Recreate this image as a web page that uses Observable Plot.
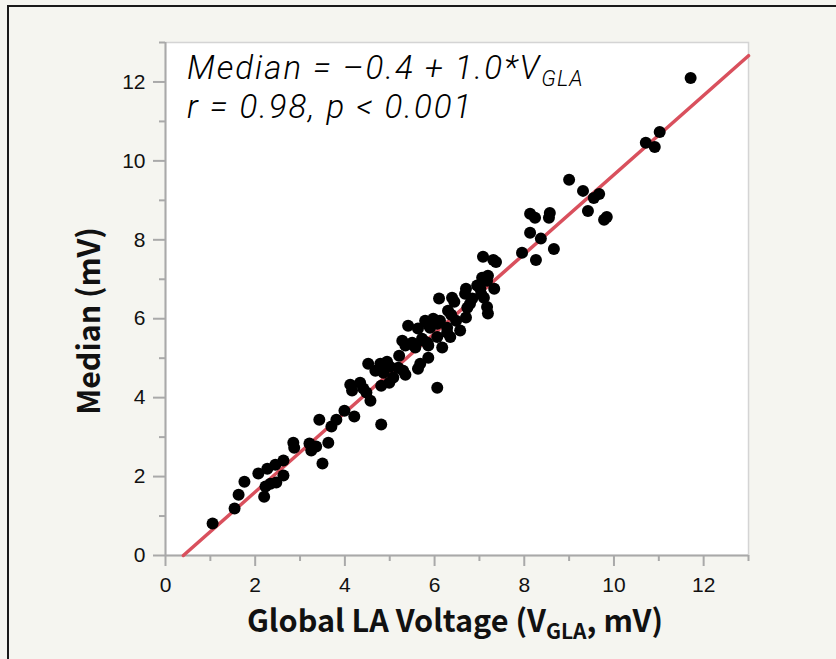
<!DOCTYPE html>
<html><head><meta charset="utf-8">
<script src="https://cdn.jsdelivr.net/npm/d3@7"></script>
<script src="https://cdn.jsdelivr.net/npm/@observablehq/plot@0.6"></script>
<style>
html,body{margin:0;padding:0;background:#f5f5f0;overflow:hidden;width:836px;height:659px}
#wrap{position:relative;width:836px;height:659px}
#border{position:absolute;left:7px;top:5px;width:1000px;height:1000px;border:2px solid #1a1a1a;pointer-events:none}
#chart svg{display:block}
</style></head><body>
<div id="wrap"><div id="chart"></div><div id="border"></div></div>
<script>
const globalLA = [1.05,1.54,1.63,1.76,2.20,2.07,2.27,2.45,2.23,2.34,2.47,2.63,2.63,2.85,2.87,3.21,3.25,3.36,3.50,3.63,3.43,3.70,3.81,3.99,4.21,4.12,4.16,4.34,4.41,4.48,4.57,4.52,4.79,4.94,5.01,4.68,4.86,4.81,4.81,5.08,4.99,5.19,5.30,5.35,5.21,5.28,5.35,5.50,5.57,5.41,5.63,5.68,5.63,5.72,5.84,5.86,5.86,6.06,6.06,6.17,6.06,6.12,6.28,6.35,6.57,6.48,6.30,6.37,6.70,6.73,6.79,6.10,6.39,6.44,6.70,6.68,6.95,7.02,7.04,7.10,7.17,7.19,7.33,7.06,7.19,7.08,7.31,7.37,7.95,8.13,8.24,8.57,8.55,8.13,8.37,8.26,8.66,9.00,9.31,9.55,9.67,9.42,9.78,9.84,10.71,10.91,11.02,11.71,7.17,5.90,5.75,5.86,6.84,6.28,5.79,5.97];
const medianV = [0.81,1.19,1.54,1.87,1.49,2.08,2.20,2.30,1.75,1.82,1.85,2.03,2.41,2.86,2.73,2.84,2.66,2.76,2.33,2.86,3.44,3.27,3.44,3.67,3.52,4.33,4.18,4.38,4.23,4.13,3.92,4.86,4.86,4.91,4.78,4.68,4.63,4.30,3.32,4.51,4.38,4.76,4.68,4.58,5.06,5.44,5.32,5.39,5.27,5.82,5.75,4.86,4.73,5.49,5.39,5.01,5.85,5.87,5.54,5.27,4.25,5.95,5.65,5.54,5.70,5.95,6.20,6.10,6.03,6.28,6.38,6.51,6.53,6.43,6.76,6.63,6.84,6.76,6.63,6.53,6.30,6.13,6.76,7.04,7.09,7.57,7.49,7.44,7.67,8.66,8.56,8.68,8.56,8.18,8.03,7.49,7.77,9.52,9.24,9.06,9.16,8.73,8.51,8.58,10.46,10.35,10.73,12.10,6.96,5.77,5.44,5.32,6.51,5.77,5.95,6.00];
const majorTicks = [0,2,4,6,8,10,12];
const minorTicks = [1,3,5,7,9,11,13];
const axisDomain = [0,13];
const fitIntercept = -0.4;
const fitSlope = 1.005;
const eqMain = "Median = \u20130.4 + 1.0*V";
const eqSub = "GLA";
const statText = "r = 0.98, p < 0.001";
const xTitleParts = ["Global LA Voltage (V", "GLA", ", mV)"];
const yTitle = "Median (mV)";

const points = globalLA.map((x, i) => ({x, y: medianV[i]}));
const fitLine = [-fitIntercept / fitSlope, axisDomain[1]].map(x => ({x, y: fitIntercept + fitSlope * x}));

const axisGray = "#a9a9a9";
const plot = Plot.plot({
  width: 836, height: 659,
  marginLeft: 165, marginRight: 88, marginTop: 42, marginBottom: 104,
  style: {background: "transparent", fontFamily: "'Liberation Sans', Arial, sans-serif", fontSize: "21px", color: "#111", overflow: "visible"},
  x: {domain: axisDomain},
  y: {domain: axisDomain},
  marks: [
    Plot.frame({fill: "white", stroke: "#d4d4d4", strokeWidth: 1.5}),
    Plot.axisX(minorTicks, {tickSize: 6, text: null, label: null, stroke: axisGray, strokeWidth: 2}),
    Plot.axisX(majorTicks, {tickSize: 11, text: null, label: null, stroke: axisGray, strokeWidth: 2}),
    Plot.axisX(majorTicks, {tickSize: 0, tickPadding: 22, label: null, fill: "#111"}),
    Plot.axisY(minorTicks, {tickSize: 6, text: null, label: null, stroke: axisGray, strokeWidth: 2}),
    Plot.axisY(majorTicks, {tickSize: 12, text: null, label: null, stroke: axisGray, strokeWidth: 2}),
    Plot.axisY(majorTicks, {tickSize: 0, tickPadding: 20, label: null, fill: "#111"}),
    Plot.ruleX([0], {stroke: axisGray, strokeWidth: 2}),
    Plot.ruleY([0], {stroke: axisGray, strokeWidth: 2}),
    Plot.line(fitLine, {x: "x", y: "y", stroke: "#d9505d", strokeWidth: 3.5}),
    Plot.dot(points, {x: "x", y: "y", r: 6, fill: "#000", stroke: "none"})
  ]
});
document.getElementById("chart").appendChild(plot);

const svg = d3.select(plot);
const titleFont = "'Noto Sans CJK JP', 'Liberation Sans', sans-serif";
const xt = svg.append("text").attr("x", 455).attr("y", 632).attr("text-anchor", "middle")
  .style("font-family", titleFont).style("font-weight", 700).style("font-size", "30.6px").attr("fill", "#111");
xt.append("tspan").text(xTitleParts[0]);
xt.append("tspan").attr("dy", 7).style("font-size", "21px").text(xTitleParts[1]);
xt.append("tspan").attr("dy", -7).text(xTitleParts[2]);

svg.append("text").attr("transform", "translate(100,321) rotate(-90)").attr("text-anchor", "middle")
  .style("font-family", titleFont).style("font-weight", 700).style("font-size", "30.4px").attr("fill", "#111").text(yTitle);

const annFont = "Roboto, sans-serif";
const annStyle = t => t.attr("text-anchor", "start").style("font-family", annFont).style("font-style", "italic")
  .style("font-weight", 300).style("font-size", "33px").style("letter-spacing", "2px").attr("fill", "#000");
const e1 = annStyle(svg.append("text").attr("x", 187).attr("y", 79));
e1.append("tspan").text(eqMain);
e1.append("tspan").attr("dy", 7).style("font-size", "22px").style("letter-spacing", "1px").text(eqSub);
annStyle(svg.append("text").attr("x", 187).attr("y", 118)).text(statText);
</script>
</body></html>
